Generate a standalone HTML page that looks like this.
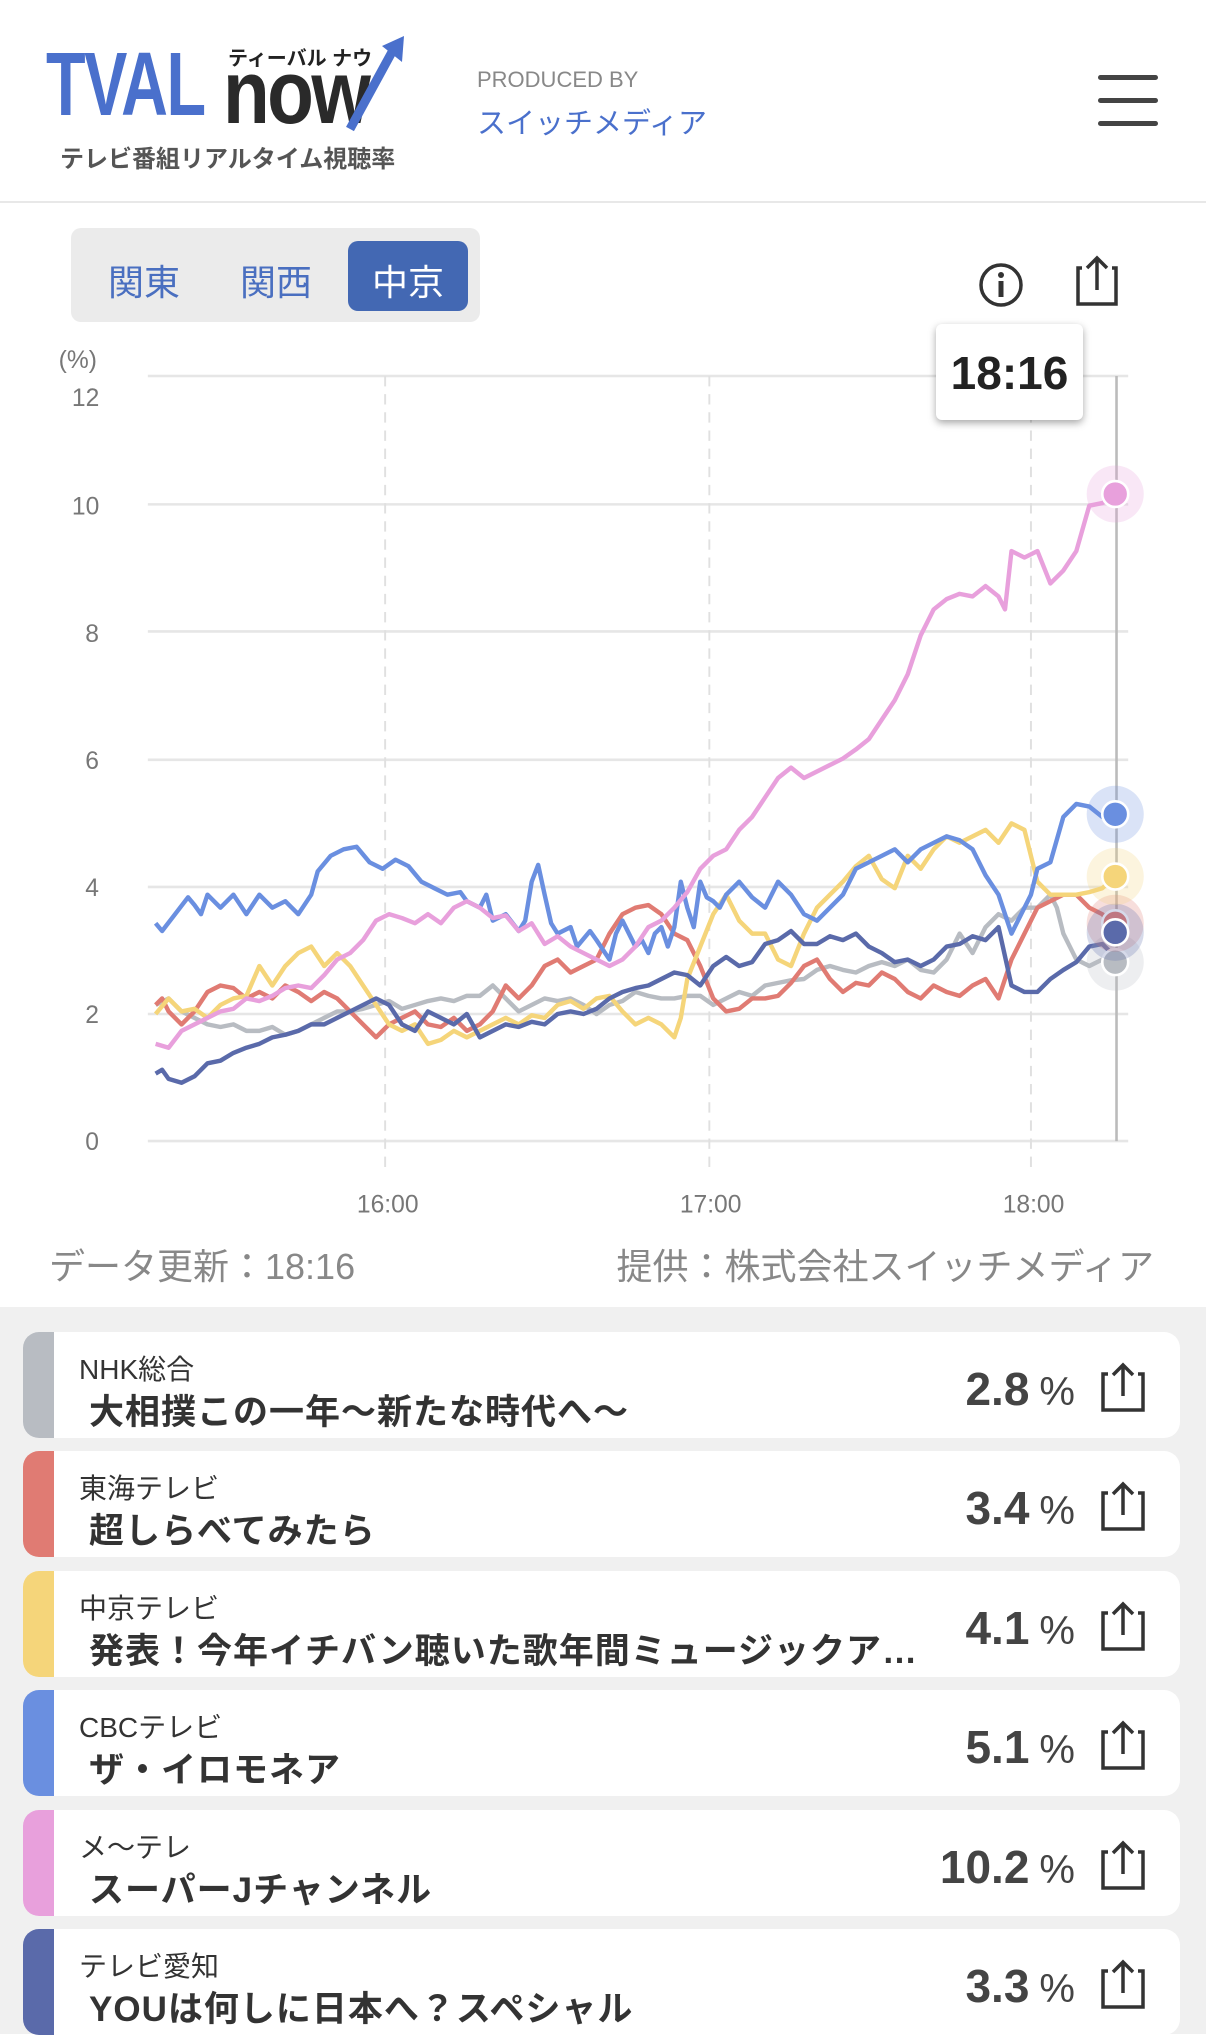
<!DOCTYPE html>
<html><head><meta charset="utf-8">
<style>
*{margin:0;padding:0;box-sizing:border-box}
body{width:1206px;height:2034px;overflow:hidden;background:#fff;font-family:"Liberation Sans","Noto Sans CJK JP",sans-serif;position:relative}
.abs{position:absolute}
.card{position:absolute;left:23px;width:1157px;height:106px;background:#fff;border-radius:16px;overflow:hidden}
.bar{position:absolute;left:0;top:0;bottom:0;width:31px}
.ch{position:absolute;left:56px;top:16px;font-size:28px;color:#333}
.ti{position:absolute;left:66px;top:52px;font-size:35px;font-weight:bold;color:#333;white-space:nowrap;letter-spacing:1px}
.pc{position:absolute;right:105px;top:30px;font-size:46px;font-weight:bold;color:#444}
.pc span{font-size:40px;font-weight:normal;margin-left:10px}
.sh{position:absolute;right:32px;top:30px}
</style></head><body>
<div class="abs" style="left:46px;top:40px;font-size:90px;font-weight:bold;color:#4a70cc;transform:scaleX(0.72);transform-origin:left top;line-height:90px;letter-spacing:-2px">TVAL</div>
<div class="abs" style="left:223px;top:48px;font-size:90px;font-weight:bold;color:#2a2a2a;transform:scaleX(0.85);transform-origin:left top;line-height:90px;letter-spacing:-3px">now</div>
<svg class="abs" style="left:330px;top:34px" width="80" height="100"><path d="M20 95 L62 18" stroke="#4a70cc" stroke-width="9"/><path d="M52 12 L74 2 L72 28 Z" fill="#4a70cc"/></svg>
<div class="abs" style="left:228px;top:42px;font-size:20px;font-weight:bold;color:#222">ティーバル ナウ</div>
<div class="abs" style="left:60px;top:139px;font-size:24px;font-weight:bold;color:#555">テレビ番組リアルタイム視聴率</div>
<div class="abs" style="left:477px;top:67px;font-size:22px;color:#888">PRODUCED BY</div>
<div class="abs" style="left:477px;top:100px;font-size:29px;color:#4a70cc">スイッチメディア</div>
<div class="abs" style="left:1098px;top:75px;width:60px;height:5px;background:#444;border-radius:3px"></div>
<div class="abs" style="left:1098px;top:98px;width:60px;height:5px;background:#444;border-radius:3px"></div>
<div class="abs" style="left:1098px;top:121px;width:60px;height:5px;background:#444;border-radius:3px"></div>
<div class="abs" style="left:0;top:201px;width:1206px;height:2px;background:#e8e8e8"></div>
<div class="abs" style="left:71px;top:228px;width:409px;height:94px;background:#ebebeb;border-radius:10px"></div>
<div class="abs" style="left:108px;top:254px;font-size:36px;color:#4a6fc0">関東</div>
<div class="abs" style="left:240px;top:254px;font-size:36px;color:#4a6fc0">関西</div>
<div class="abs" style="left:348px;top:241px;width:120px;height:70px;background:#4368b3;border-radius:10px"></div>
<div class="abs" style="left:372px;top:254px;font-size:36px;color:#fff">中京</div>
<svg class="abs" style="left:976px;top:260px" width="50" height="50"><circle cx="25" cy="25" r="20" fill="none" stroke="#333" stroke-width="3.5"/><circle cx="25" cy="15" r="3" fill="#333"/><rect x="22.5" y="21" width="5" height="16" fill="#333"/></svg>
<svg class="abs" style="left:1072px;top:254px" width="50" height="56"><path d="M10 14 H6 V50 H44 V14 H40" fill="none" stroke="#333" stroke-width="3.5"/><path d="M25 36 V4 M15 14 L25 4 L35 14" fill="none" stroke="#333" stroke-width="3.5"/></svg>
<svg class="abs" style="left:0;top:324px" width="1206" height="908" viewBox="0 250 930 700">
<g stroke="#e6e6e6" stroke-width="2">
<line x1="114" y1="290" x2="870" y2="290"/><line x1="114" y1="389" x2="870" y2="389"/><line x1="114" y1="487" x2="870" y2="487"/><line x1="114" y1="586" x2="870" y2="586"/><line x1="114" y1="684" x2="870" y2="684"/><line x1="114" y1="782" x2="870" y2="782"/><line x1="114" y1="880" x2="870" y2="880"/></g>
<g stroke="#e0e0e0" stroke-width="1.5" stroke-dasharray="8 6"><line x1="297" y1="290" x2="297" y2="905"/><line x1="547" y1="290" x2="547" y2="905"/><line x1="795" y1="290" x2="795" y2="905"/></g>
<line x1="861" y1="290" x2="861" y2="880" stroke="#bbb" stroke-width="2"/>
<g font-size="19" fill="#777" text-anchor="middle" font-family="Liberation Sans,sans-serif">
<text x="60" y="284">(%)</text><text x="66" y="313">12</text><text x="66" y="397">10</text><text x="71" y="495">8</text><text x="71" y="593">6</text><text x="71" y="691">4</text><text x="71" y="789">2</text><text x="71" y="887">0</text>
<text x="299" y="935">16:00</text><text x="548" y="935">17:00</text><text x="797" y="935">18:00</text></g>
<g fill="none" stroke-width="3.4" stroke-linejoin="round">
<polyline stroke="#b8bcc2" points="120,775 130,770 140,780 150,785 160,790 170,792 180,790 190,795 200,795 210,792 220,798 230,795 240,790 250,785 260,780 270,780 280,778 290,775 300,772 310,778 320,775 330,772 340,770 350,772 360,768 370,768 380,760 390,770 400,780 410,775 420,770 430,772 440,770 450,775 460,782 470,775 480,772 490,765 500,768 510,770 520,770 530,768 540,768 550,775 560,770 570,765 580,768 590,760 600,758 610,756 620,755 630,748 640,745 650,748 660,750 670,745 680,742 690,745 700,740 710,748 720,750 730,740 740,720 750,735 760,715 770,705 780,710 790,700 800,700 810,690 815,700 820,720 830,740 840,745 850,740 860,742"/>
<polyline stroke="#e07b73" points="120,775 125,770 130,780 140,790 150,780 160,765 170,760 180,762 190,770 200,765 210,770 220,760 230,765 240,772 250,765 260,770 270,780 280,790 290,800 300,790 310,785 320,780 330,790 340,792 350,785 360,795 370,790 380,780 390,760 400,770 410,760 420,745 430,740 440,750 450,745 460,740 470,720 480,705 490,700 500,698 510,705 520,720 530,725 540,745 550,770 560,780 570,778 580,770 590,770 600,768 610,758 620,745 630,740 640,755 650,765 660,758 670,760 680,750 690,755 700,765 710,770 720,760 730,765 740,768 750,760 760,755 770,770 780,740 790,720 800,700 810,695 820,690 830,690 840,700 850,705 860,715"/>
<polyline stroke="#f5d57a" points="120,782 130,770 140,780 150,778 160,785 170,775 180,770 190,768 200,745 210,760 220,745 230,735 240,730 250,745 260,735 270,745 280,760 290,775 300,790 310,795 320,790 330,805 340,802 350,795 360,800 370,795 380,790 390,785 400,790 410,783 420,785 430,775 440,772 450,778 460,770 470,768 480,780 490,790 500,785 510,790 520,800 525,785 530,755 540,730 550,705 560,690 570,710 580,720 590,720 600,740 610,745 620,720 630,700 640,690 650,680 660,668 670,660 680,678 690,685 700,660 710,670 720,655 730,645 740,650 750,645 760,640 770,650 780,635 790,640 800,680 810,690 820,690 830,690 840,688 850,685 860,676"/>
<polyline stroke="#5a6aaa" points="120,828 125,825 130,832 140,835 150,830 160,820 170,818 180,812 190,808 200,805 210,800 220,798 230,795 240,790 250,790 260,785 270,780 280,775 290,770 300,775 310,790 320,795 330,780 340,785 350,790 360,782 370,800 380,795 390,790 400,792 410,788 420,790 430,782 440,780 450,782 460,778 470,770 480,765 490,762 500,760 510,755 520,750 530,752 540,760 550,745 560,738 570,745 580,742 590,728 600,725 610,718 620,728 630,728 640,722 650,725 660,720 670,730 680,735 690,742 700,740 710,745 720,740 730,730 740,728 750,722 760,725 770,715 780,760 790,765 800,765 810,755 820,748 830,742 840,730 850,728 860,738"/>
<polyline stroke="#6a8fe0" points="120,712 125,718 135,705 145,692 150,698 155,705 160,690 170,700 180,690 190,705 200,690 210,700 220,695 230,705 240,690 245,672 255,660 265,655 275,653 285,665 295,670 305,663 315,668 325,680 335,685 345,690 355,688 360,695 370,700 375,690 380,710 390,705 400,718 405,710 410,680 415,667 420,690 425,712 430,720 440,715 445,730 455,718 460,725 470,740 475,720 480,710 490,730 495,725 500,735 505,720 510,715 515,730 520,715 525,680 530,700 535,715 540,680 545,692 550,695 555,700 560,690 570,680 580,692 590,700 600,680 610,690 620,705 630,710 640,700 650,690 660,670 670,665 680,660 690,655 700,665 710,655 720,650 730,645 740,648 750,655 760,675 770,690 780,720 790,700 795,690 800,670 810,665 820,630 830,620 840,622 850,630 860,628"/>
<polyline stroke="#e8a0dc" points="120,805 130,808 140,795 150,790 160,785 170,780 180,778 190,770 200,772 210,768 220,762 230,760 240,762 250,752 260,740 270,735 280,725 290,710 300,705 310,708 320,712 330,705 340,712 350,700 360,695 370,700 380,708 390,706 400,718 410,712 420,728 430,722 440,730 450,735 460,740 470,745 480,740 490,730 500,715 510,710 520,700 530,688 540,670 550,660 560,655 570,640 580,630 590,615 600,600 610,592 620,600 630,595 640,590 650,585 660,578 670,570 680,555 690,540 700,520 710,490 720,470 730,462 740,458 750,460 760,452 770,460 775,470 780,425 790,430 800,425 810,450 820,440 830,425 840,390 850,388 860,382"/>
</g>
<g stroke="#fff" stroke-width="2">
<circle cx="860" cy="742" r="22" fill="#b8bcc2" fill-opacity=".25" stroke="none"/><circle cx="860" cy="742" r="10" fill="#b8bcc2"/>
<circle cx="860" cy="712" r="22" fill="#e07b73" fill-opacity=".25" stroke="none"/><circle cx="860" cy="712" r="10" fill="#e07b73"/>
<circle cx="860" cy="719" r="22" fill="#5a6aaa" fill-opacity=".25" stroke="none"/><circle cx="860" cy="719" r="10" fill="#5a6aaa"/>
<circle cx="860" cy="676" r="22" fill="#f5d57a" fill-opacity=".25" stroke="none"/><circle cx="860" cy="676" r="10" fill="#f5d57a"/>
<circle cx="860" cy="628" r="22" fill="#6a8fe0" fill-opacity=".25" stroke="none"/><circle cx="860" cy="628" r="10" fill="#6a8fe0"/>
<circle cx="860" cy="381" r="22" fill="#e8a0dc" fill-opacity=".25" stroke="none"/><circle cx="860" cy="381" r="10" fill="#e8a0dc"/>
</g>
</svg>
<div class="abs" style="left:936px;top:324px;width:147px;height:96px;background:#fff;border-radius:6px;box-shadow:0 3px 8px rgba(0,0,0,.35)"></div>
<div class="abs" style="left:936px;top:346px;width:147px;text-align:center;font-size:46px;font-weight:bold;color:#222">18:16</div>
<div class="abs" style="left:49px;top:1238px;font-size:36px;color:#888">データ更新：18:16</div>
<div class="abs" style="right:52px;top:1238px;font-size:36px;color:#888">提供：株式会社スイッチメディア</div>
<div class="abs" style="left:0;top:1307px;width:1206px;height:727px;background:#f0f0f0"></div>
<div class="card" style="top:1332px"><div class="bar" style="background:#b8bcc2"></div><div class="ch">NHK総合</div><div class="ti">大相撲この一年〜新たな時代へ〜</div><div class="pc">2.8<span>%</span></div><svg class="sh" width="50" height="52"><path d="M10 12 H5 V48 H45 V12 H40" fill="none" stroke="#333" stroke-width="3.5"/><path d="M25 34 V3 M15 13 L25 3 L35 13" fill="none" stroke="#333" stroke-width="3.5"/></svg></div>
<div class="card" style="top:1451px"><div class="bar" style="background:#e07b73"></div><div class="ch">東海テレビ</div><div class="ti">超しらべてみたら</div><div class="pc">3.4<span>%</span></div><svg class="sh" width="50" height="52"><path d="M10 12 H5 V48 H45 V12 H40" fill="none" stroke="#333" stroke-width="3.5"/><path d="M25 34 V3 M15 13 L25 3 L35 13" fill="none" stroke="#333" stroke-width="3.5"/></svg></div>
<div class="card" style="top:1571px"><div class="bar" style="background:#f5d57a"></div><div class="ch">中京テレビ</div><div class="ti">発表！今年イチバン聴いた歌年間ミュージックア…</div><div class="pc">4.1<span>%</span></div><svg class="sh" width="50" height="52"><path d="M10 12 H5 V48 H45 V12 H40" fill="none" stroke="#333" stroke-width="3.5"/><path d="M25 34 V3 M15 13 L25 3 L35 13" fill="none" stroke="#333" stroke-width="3.5"/></svg></div>
<div class="card" style="top:1690px"><div class="bar" style="background:#6a8fe0"></div><div class="ch">CBCテレビ</div><div class="ti">ザ・イロモネア</div><div class="pc">5.1<span>%</span></div><svg class="sh" width="50" height="52"><path d="M10 12 H5 V48 H45 V12 H40" fill="none" stroke="#333" stroke-width="3.5"/><path d="M25 34 V3 M15 13 L25 3 L35 13" fill="none" stroke="#333" stroke-width="3.5"/></svg></div>
<div class="card" style="top:1810px"><div class="bar" style="background:#e8a0dc"></div><div class="ch">メ〜テレ</div><div class="ti">スーパーJチャンネル</div><div class="pc">10.2<span>%</span></div><svg class="sh" width="50" height="52"><path d="M10 12 H5 V48 H45 V12 H40" fill="none" stroke="#333" stroke-width="3.5"/><path d="M25 34 V3 M15 13 L25 3 L35 13" fill="none" stroke="#333" stroke-width="3.5"/></svg></div>
<div class="card" style="top:1929px"><div class="bar" style="background:#5a6aaa"></div><div class="ch">テレビ愛知</div><div class="ti">YOUは何しに日本へ？スペシャル</div><div class="pc">3.3<span>%</span></div><svg class="sh" width="50" height="52"><path d="M10 12 H5 V48 H45 V12 H40" fill="none" stroke="#333" stroke-width="3.5"/><path d="M25 34 V3 M15 13 L25 3 L35 13" fill="none" stroke="#333" stroke-width="3.5"/></svg></div>
</body></html>
